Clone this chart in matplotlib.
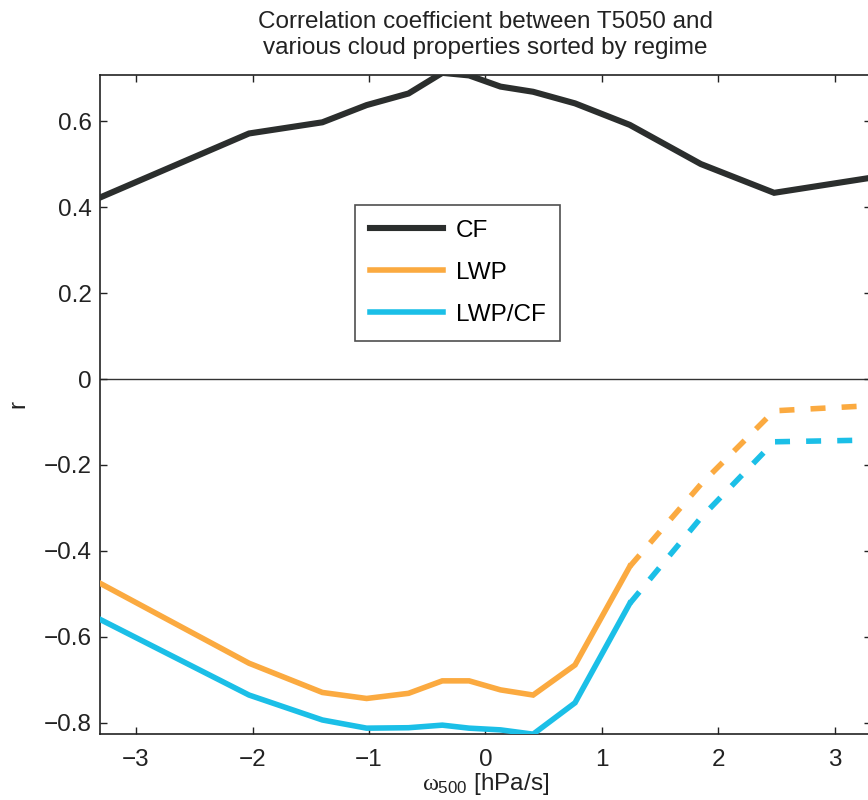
#!/usr/bin/env python3
import matplotlib
matplotlib.use("Agg")
import matplotlib.pyplot as plt

plt.rcParams["font.family"] = ["Liberation Sans", "DejaVu Sans"]
plt.rcParams["mathtext.fontset"] = "custom"
plt.rcParams["mathtext.rm"] = "Liberation Sans"
plt.rcParams["mathtext.it"] = "Liberation Serif"

# omega_500 bin centres (hPa/s)
omega = [-3.31, -2.03, -1.40, -1.02, -0.66, -0.37, -0.14, 0.13, 0.41, 0.77, 1.24, 1.85, 2.48, 3.31]

# correlation coefficients
r_cf = [0.422, 0.571, 0.597, 0.637, 0.664, 0.712, 0.706, 0.680, 0.668, 0.641, 0.591, 0.500, 0.433, 0.468]
r_lwp = [-0.475, -0.661, -0.729, -0.743, -0.731, -0.702, -0.702, -0.723, -0.735, -0.665, -0.436, -0.245, -0.074, -0.062]
r_lwpcf = [-0.559, -0.735, -0.793, -0.812, -0.811, -0.805, -0.812, -0.816, -0.826, -0.753, -0.522, -0.323, -0.146, -0.142]

# everything after this index is drawn dashed
n_solid = 11

c_cf = "#2b2e2d"
c_lwp = "#fbaa40"
c_lwpcf = "#1bbfe7"

fs = 17.5

fig = plt.figure(figsize=(8.68, 8.0), dpi=100)
ax = fig.add_axes([0.1152, 0.0825, 0.888, 0.82375])

ax.axhline(0, color="#333333", linewidth=1.0, zorder=1)

ax.plot(omega, r_cf, color=c_cf, linewidth=4.4, label="CF", zorder=3,
        solid_joinstyle="miter")
for vals, col, lab in [(r_lwp, c_lwp, "LWP"), (r_lwpcf, c_lwpcf, "LWP/CF")]:
    ax.plot(omega[:n_solid], vals[:n_solid], color=col, linewidth=4.0,
            label=lab, zorder=3, solid_joinstyle="miter")
    ax.plot(omega[n_solid - 1:], vals[n_solid - 1:], color=col, linewidth=4.0,
            linestyle=(0, (2.7, 2.9)), dash_capstyle="butt", zorder=3)

ax.set_xlim(-3.31, 3.31)
ax.set_ylim(-0.8256, 0.707)
ax.set_xticks([-3, -2, -1, 0, 1, 2, 3])
ax.set_yticks([-0.8, -0.6, -0.4, -0.2, 0, 0.2, 0.4, 0.6])
ax.set_xticklabels(["\u22123", "\u22122", "\u22121", "0", "1", "2", "3"])
ax.set_yticklabels(["\u22120.8", "\u22120.6", "\u22120.4", "\u22120.2", "0", "0.2", "0.4", "0.6"])

ax.tick_params(direction="in", length=5, width=1.0, labelsize=fs,
               top=True, right=True, colors="#222222")
ax.tick_params(axis="x", pad=11)
ax.tick_params(axis="y", pad=6)
for s in ax.spines.values():
    s.set_linewidth(1.2)
    s.set_color("#222222")

ax.set_title("Correlation coefficient between T5050 and\nvarious cloud properties sorted by regime",
             fontsize=fs, pad=15, color="#222222", linespacing=1.25)
ax.set_xlabel(r"$\omega_{500}$ [hPa/s]", fontsize=fs, labelpad=0, color="#222222")
ax.set_ylabel("r", fontsize=fs, labelpad=10, color="#222222")

leg = ax.legend(loc="upper left", bbox_to_anchor=(0.331, 0.8027), fontsize=fs,
                frameon=True, fancybox=False, handlelength=3.0, handletextpad=0.55,
                labelspacing=0.83, borderpad=0.6, borderaxespad=0)
leg.get_frame().set_edgecolor("#222222")
leg.get_frame().set_linewidth(1.2)

fig.savefig("out.png", dpi=100)
